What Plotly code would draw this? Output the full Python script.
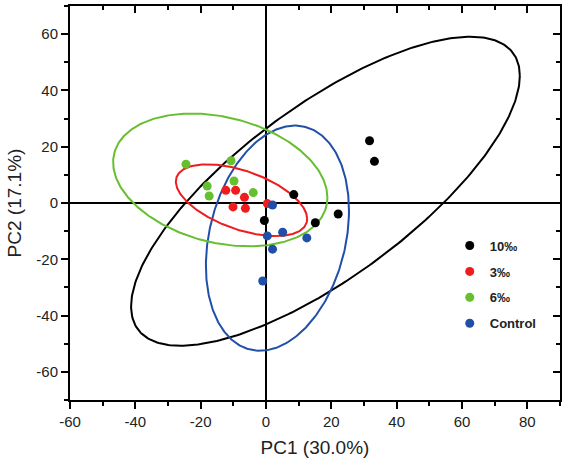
import numpy as np
import plotly.graph_objects as go

# ---- data ----
groups = ["10‰", "3‰", "6‰", "Control"]
colors = ["#000000", "#ee1c1c", "#66bf2e", "#1f4fa8"]

black_x = [8.5, -0.5, 15.1, 22.1, 31.7, 33.2]
black_y = [3.0, -6.2, -7.0, -3.9, 22.1, 14.8]
red_x = [-12.3, -9.3, -6.6, -10.1, -6.3, 0.4]
red_y = [4.5, 4.5, 2.0, -1.4, -1.9, -0.2]
green_x = [-24.5, -10.7, -18.0, -17.4, -9.8, -3.9]
green_y = [13.8, 15.0, 6.0, 2.5, 7.8, 3.7]
blue_x = [2.0, 0.4, 5.1, 12.5, 2.0, -1.0]
blue_y = [-0.7, -11.7, -10.4, -12.4, -16.4, -27.7]

# confidence ellipses: centre, x/y half extents, correlation (order = groups)
ell_cx = [18.2, -7.5, -14.0, 3.5]
ell_cy = [4.2, 1.0, 8.2, -12.5]
ell_sx = [59.5, 20.1, 32.8, 21.9]
ell_sy = [54.9, 12.75, 23.6, 40.0]
ell_r = [0.746, -0.52, -0.265, 0.244]

# tick labels
x_ticks = [-60, -40, -20, 0, 20, 40, 60, 80]
x_minor = [-50, -30, -10, 10, 30, 50, 70, 90]
y_ticks = [-60, -40, -20, 0, 20, 40, 60]
y_minor = [-70, -50, -30, -10, 10, 30, 50, 70]
x_labels = [str(v) for v in x_ticks]
y_labels = [str(v) for v in y_ticks]

xs = [black_x, red_x, green_x, blue_x]
ys = [black_y, red_y, green_y, blue_y]

fig = go.Figure()

t = np.linspace(0, 2 * np.pi, 361)
for i in [0, 3, 2, 1]:
    ex = ell_cx[i] + ell_sx[i] * np.cos(t)
    ey = ell_cy[i] + ell_sy[i] * (ell_r[i] * np.cos(t) + np.sqrt(1 - ell_r[i] ** 2) * np.sin(t))
    fig.add_trace(go.Scatter(x=ex, y=ey, mode="lines", line=dict(color=colors[i], width=2),
                             showlegend=False, hoverinfo="skip"))

for i, g in enumerate(groups):
    fig.add_trace(go.Scatter(x=xs[i], y=ys[i], mode="markers", name=g, legendgroup=g,
                             marker=dict(color=colors[i], size=9)))

# invisible trace to hold mirrored axes
fig.add_trace(go.Scatter(x=[None], y=[None], xaxis="x2", yaxis="y2", showlegend=False, hoverinfo="skip"))

font = "Liberation Sans, Arial, sans-serif"
tick_style = dict(ticklen=7, tickwidth=1.5, tickcolor="black")
line_style = dict(showline=True, linecolor="black", linewidth=2, showgrid=False)


def minor(vals, side):
    return dict(ticks=side, ticklen=4, tickvals=vals, tickcolor="black", tickwidth=1.5, showgrid=False)


fig.update_layout(
    width=566, height=469,
    margin=dict(l=70, r=6, t=6, b=69),
    paper_bgcolor="white", plot_bgcolor="white",
    font=dict(family=font, color="#222"),
    xaxis=dict(range=[-60, 90], tickmode="array", tickvals=x_ticks, ticktext=x_labels,
               ticks="outside", tickfont=dict(size=15, color="#222", family=font),
               zeroline=True, zerolinecolor="black", zerolinewidth=1.5,
               minor=minor(x_minor, "outside"),
               title=dict(text="PC1 (30.0%)", font=dict(size=19, family=font, color="#222"), standoff=12),
               **tick_style, **line_style),
    yaxis=dict(range=[-70, 70], tickmode="array", tickvals=y_ticks, ticktext=y_labels,
               ticks="outside", tickfont=dict(size=15, color="#222", family=font),
               zeroline=True, zerolinecolor="black", zerolinewidth=1.5,
               minor=minor(y_minor, "outside"),
               title=dict(text="PC2 (17.1%)", font=dict(size=19, family=font, color="#222"), standoff=10),
               **tick_style, **line_style),
    xaxis2=dict(overlaying="x", side="top", range=[-60, 90], tickmode="array", tickvals=x_ticks,
                zeroline=False, showticklabels=False, ticks="inside",
                minor=minor(x_minor, "inside"), **tick_style, **line_style),
    yaxis2=dict(overlaying="y", side="right", range=[-70, 70], tickmode="array", tickvals=y_ticks,
                zeroline=False, showticklabels=False, ticks="inside",
                minor=minor(y_minor, "inside"), **tick_style, **line_style),
    legend=dict(x=0.775, y=0.43, xanchor="left", yanchor="top", bgcolor="rgba(0,0,0,0)",
                traceorder="grouped", tracegroupgap=6,
                font=dict(size=13, family=font, color="#222", weight="bold")),
    showlegend=True,
)

fig.write_html("out.html")
